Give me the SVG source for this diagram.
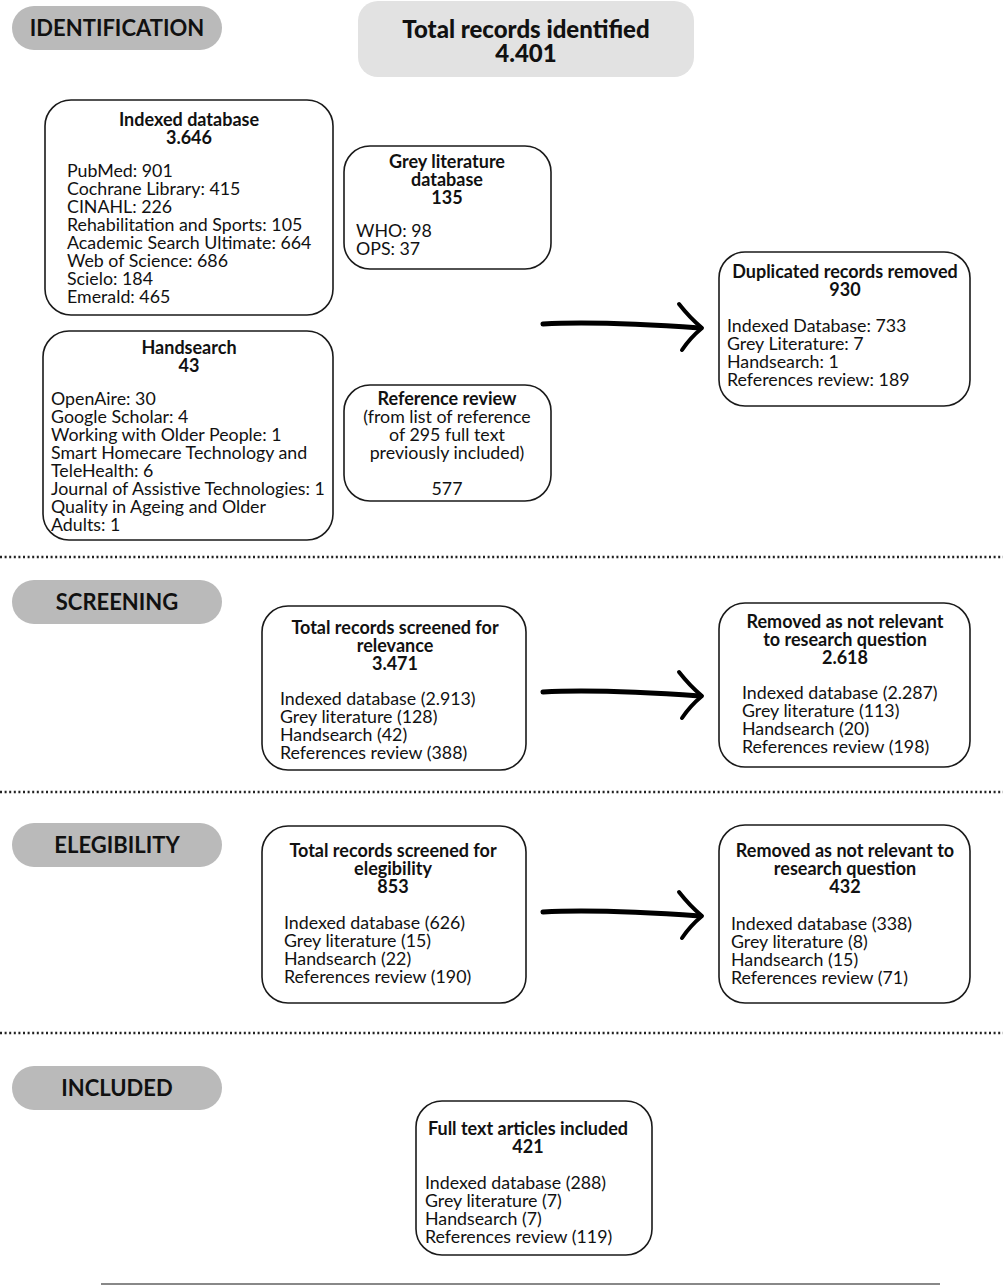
<svg xmlns="http://www.w3.org/2000/svg" width="1003" height="1287" viewBox="0 0 1003 1287">
<style>
.box{fill:#fff;stroke:#1a1a1a;stroke-width:1.6}
.pill{fill:#bababa}
.pt{font-family:Lato,"Noto Sans",sans-serif;font-size:22px;font-weight:700;fill:#111;text-anchor:middle}
.t{font-family:Lato,"Noto Sans",sans-serif;font-size:18px;font-weight:700;fill:#111;text-anchor:middle}
.l{font-family:Lato,"Noto Sans",sans-serif;font-size:17.8px;fill:#111}
.c{font-family:Lato,"Noto Sans",sans-serif;font-size:17.8px;fill:#111;text-anchor:middle}
.dot{stroke:#222;stroke-width:2.5;stroke-dasharray:2 2.6}
.shaft{fill:none;stroke:#000;stroke-width:5;stroke-linecap:round}
.head{fill:none;stroke:#000;stroke-width:4;stroke-linecap:round;stroke-linejoin:round}
</style>
<rect width="1003" height="1287" fill="#fff"/>

<g id="separators">
<line class="dot" x1="0" y1="557" x2="1003" y2="557"/>
<line class="dot" x1="0" y1="792" x2="1003" y2="792"/>
<line class="dot" x1="0" y1="1033" x2="1003" y2="1033"/>
<line x1="101" y1="1284" x2="940" y2="1284" stroke="#888" stroke-width="2"/>
</g>

<g id="stage-identification">
<rect class="pill" x="12" y="6" width="210" height="44" rx="22"/>
<text class="pt" x="117" y="36">IDENTIFICATION</text>
</g>
<g id="stage-screening">
<rect class="pill" x="12" y="580" width="210" height="44" rx="22"/>
<text class="pt" x="117" y="610">SCREENING</text>
</g>
<g id="stage-elegibility">
<rect class="pill" x="12" y="823" width="210" height="44" rx="22"/>
<text class="pt" x="117" y="853">ELEGIBILITY</text>
</g>
<g id="stage-included">
<rect class="pill" x="12" y="1066" width="210" height="44" rx="22"/>
<text class="pt" x="117" y="1096">INCLUDED</text>
</g>

<g id="total-identified">
<rect x="358" y="1" width="336" height="76" rx="20" fill="#e2e2e2"/>
<text x="526" y="38" font-family="Lato,'Noto Sans',sans-serif" font-size="24" font-weight="900" fill="#111" text-anchor="middle">Total records identified</text>
<text x="526" y="62" font-family="Lato,'Noto Sans',sans-serif" font-size="24" font-weight="900" fill="#111" text-anchor="middle">4.401</text>
</g>

<g id="indexed-database">
<rect class="box" x="45" y="100" width="288" height="215" rx="26"/>
<text class="t" x="189" y="126">Indexed database</text>
<text class="t" x="189" y="144">3.646</text>
<text class="l" x="67" y="177">PubMed: 901</text>
<text class="l" x="67" y="195">Cochrane Library: 415</text>
<text class="l" x="67" y="213">CINAHL: 226</text>
<text class="l" x="67" y="231">Rehabilitation and Sports: 105</text>
<text class="l" x="67" y="249">Academic Search Ultimate: 664</text>
<text class="l" x="67" y="267">Web of Science: 686</text>
<text class="l" x="67" y="285">Scielo: 184</text>
<text class="l" x="67" y="303">Emerald: 465</text>
</g>

<g id="grey-literature">
<rect class="box" x="344" y="146" width="207" height="123" rx="26"/>
<text class="t" x="447" y="168">Grey literature</text>
<text class="t" x="447" y="186">database</text>
<text class="t" x="447" y="204">135</text>
<text class="l" x="356" y="237">WHO: 98</text>
<text class="l" x="356" y="255">OPS: 37</text>
</g>

<g id="handsearch">
<rect class="box" x="43" y="331" width="290" height="209" rx="26"/>
<text class="t" x="189" y="354">Handsearch</text>
<text class="t" x="189" y="372">43</text>
<text class="l" x="51" y="405">OpenAire: 30</text>
<text class="l" x="51" y="423">Google Scholar: 4</text>
<text class="l" x="51" y="441">Working with Older People: 1</text>
<text class="l" x="51" y="459">Smart Homecare Technology and</text>
<text class="l" x="51" y="477">TeleHealth: 6</text>
<text class="l" x="51" y="495">Journal of Assistive Technologies: 1</text>
<text class="l" x="51" y="513">Quality in Ageing and Older</text>
<text class="l" x="51" y="531">Adults: 1</text>
</g>

<g id="reference-review">
<rect class="box" x="344" y="385" width="207" height="116" rx="26"/>
<text class="t" x="447" y="405">Reference review</text>
<text class="c" x="447" y="423">(from list of reference</text>
<text class="c" x="447" y="441">of 295 full text</text>
<text class="c" x="447" y="459">previously included)</text>
<text class="c" x="447" y="495">577</text>
</g>

<g id="duplicates-removed">
<rect class="box" x="719" y="252" width="251" height="154" rx="26"/>
<text class="t" x="845" y="278">Duplicated records removed</text>
<text class="t" x="845" y="296">930</text>
<text class="l" x="727" y="332">Indexed Database: 733</text>
<text class="l" x="727" y="350">Grey Literature: 7</text>
<text class="l" x="727" y="368">Handsearch: 1</text>
<text class="l" x="727" y="386">References review: 189</text>
</g>

<g id="screened-relevance">
<rect class="box" x="262" y="606" width="264" height="164" rx="26"/>
<text class="t" x="395" y="634">Total records screened for</text>
<text class="t" x="395" y="652">relevance</text>
<text class="t" x="395" y="670">3.471</text>
<text class="l" x="280" y="705">Indexed database (2.913)</text>
<text class="l" x="280" y="723">Grey literature (128)</text>
<text class="l" x="280" y="741">Handsearch (42)</text>
<text class="l" x="280" y="759">References review (388)</text>
</g>

<g id="removed-relevance">
<rect class="box" x="719" y="603" width="251" height="164" rx="26"/>
<text class="t" x="845" y="628">Removed as not relevant</text>
<text class="t" x="845" y="646">to research question</text>
<text class="t" x="845" y="664">2.618</text>
<text class="l" x="742" y="699">Indexed database (2.287)</text>
<text class="l" x="742" y="717">Grey literature (113)</text>
<text class="l" x="742" y="735">Handsearch (20)</text>
<text class="l" x="742" y="753">References review (198)</text>
</g>

<g id="screened-elegibility">
<rect class="box" x="262" y="826" width="264" height="177" rx="26"/>
<text class="t" x="393" y="857">Total records screened for</text>
<text class="t" x="393" y="875">elegibility</text>
<text class="t" x="393" y="893">853</text>
<text class="l" x="284" y="929">Indexed database (626)</text>
<text class="l" x="284" y="947">Grey literature (15)</text>
<text class="l" x="284" y="965">Handsearch (22)</text>
<text class="l" x="284" y="983">References review (190)</text>
</g>

<g id="removed-elegibility">
<rect class="box" x="719" y="825" width="251" height="178" rx="26"/>
<text class="t" x="845" y="857">Removed as not relevant to</text>
<text class="t" x="845" y="875">research question</text>
<text class="t" x="845" y="893">432</text>
<text class="l" x="731" y="930">Indexed database (338)</text>
<text class="l" x="731" y="948">Grey literature (8)</text>
<text class="l" x="731" y="966">Handsearch (15)</text>
<text class="l" x="731" y="984">References review (71)</text>
</g>

<g id="included">
<rect class="box" x="416" y="1101" width="236" height="154" rx="26"/>
<text class="t" x="528" y="1135">Full text articles included</text>
<text class="t" x="528" y="1153">421</text>
<text class="l" x="425" y="1189">Indexed database (288)</text>
<text class="l" x="425" y="1207">Grey literature (7)</text>
<text class="l" x="425" y="1225">Handsearch (7)</text>
<text class="l" x="425" y="1243">References review (119)</text>
</g>

<g id="connectors">
<path class="shaft" d="M543,324 Q600,321 700,328"/>
<path class="head" d="M679,304 Q690,318 702,328 Q690,338 682,350"/>
<path class="shaft" d="M543,692 Q600,689 700,696"/>
<path class="head" d="M679,672 Q690,686 702,696 Q690,706 682,718"/>
<path class="shaft" d="M543,912 Q600,909 700,916"/>
<path class="head" d="M679,892 Q690,906 702,916 Q690,926 682,938"/>
</g>
</svg>
